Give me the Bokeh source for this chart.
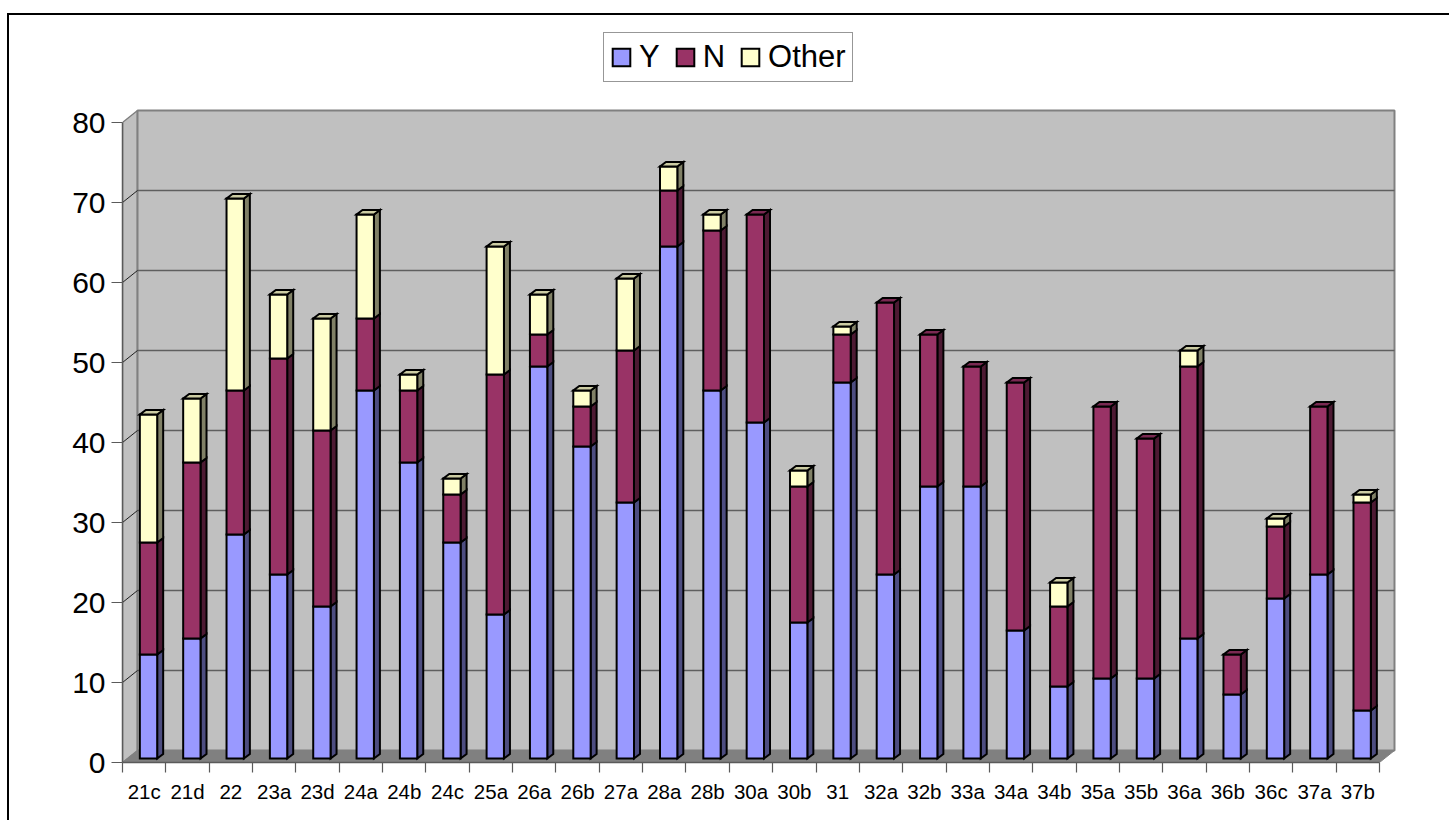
import numpy as np
from bokeh.plotting import figure
from bokeh.models import FixedTicker, Legend, LegendItem, Range1d
from bokeh.embed import file_html
from bokeh.resources import INLINE

categories = ["21c","21d","22","23a","23d","24a","24b","24c","25a","26a","26b","27a","28a","28b","30a",
              "30b","31","32a","32b","33a","34a","34b","35a","35b","36a","36b","36c","37a","37b"]
y_vals = [13,15,28,23,19,46,37,27,18,49,39,32,64,46,42,17,47,23,34,34,16,9,10,10,15,8,20,23,6]
n_vals = [14,22,18,27,22,9,9,6,30,4,5,19,7,20,26,17,6,34,19,15,31,10,34,30,34,5,9,21,26]
other_vals = [16,8,24,8,14,13,2,2,16,5,2,9,3,2,0,2,1,0,0,0,0,3,0,0,2,0,1,0,1]
y_ticks = [0,10,20,30,40,50,60,70,80]

FONT = "Liberation Sans"
n = len(categories)
PX_X = 1257 / n          # pixels per category
PX_Y = 8.0               # pixels per unit
WALL_DX = 15 / PX_X
WALL_DY = 12 / PX_Y
BAR_L, BAR_R = 0.40, 0.80
BAR_BASE = 0.5
BAR_DX = 6 / PX_X
BAR_DY = 4.5 / PX_Y

# The figure sits inside a CSS border that draws the chart-area frame
OX, OY = 9, 15
W, H = 1451 - OX, 822 - OY
BL, BB, BT = 122 - OX, 60, 20 - OY
BR = W - BL - 1278
frame_w = W - BL - BR
frame_h = H - BB - BT

p = figure(width=W, height=H, output_backend="svg", toolbar_location=None,
           x_range=Range1d(0, frame_w / PX_X), y_range=Range1d(0, frame_h / PX_Y),
           min_border_left=BL, min_border_right=BR, min_border_top=BT, min_border_bottom=BB,
           background_fill_color="white", border_fill_color="white", outline_line_color=None)
p.styles = {"margin-left": "7px", "margin-top": "13px",
            "border-left": "2px solid black", "border-top": "2px solid black"}
p.grid.visible = False

# walls and floor
WALL = "#C0C0C0"; EDGE = "#808080"
p.patch([0, WALL_DX, WALL_DX, 0], [0, WALL_DY, y_ticks[-1] + WALL_DY, y_ticks[-1]],
        fill_color=WALL, line_color=EDGE, line_width=1.5)
p.quad(left=[WALL_DX], right=[n + WALL_DX], bottom=[WALL_DY], top=[y_ticks[-1] + WALL_DY],
       fill_color=WALL, line_color=EDGE, line_width=2)
p.patch([0, n, n + WALL_DX, WALL_DX], [0, 0, WALL_DY, WALL_DY], fill_color=EDGE, line_color=EDGE, line_width=1)

# gridlines: back wall and side wall
grid = [t for t in y_ticks[1:-1]]
p.segment(x0=[WALL_DX] * len(grid), x1=[n + WALL_DX] * len(grid),
          y0=[t + WALL_DY for t in grid], y1=[t + WALL_DY for t in grid],
          line_color="#5F5F5F", line_width=1.5)
p.segment(x0=[0] * len(grid), x1=[WALL_DX] * len(grid),
          y0=grid, y1=[t + WALL_DY for t in grid], line_color="#202020", line_width=1)

# stacked 3D bars
series = [("Y", y_vals, "#9999FF", "#4D4D80", "#7A7ACC"),
          ("N", n_vals, "#993366", "#4D1A33", "#7A2952"),
          ("Other", other_vals, "#FFFFCC", "#808066", "#CCCCA3")]
x = np.arange(n, dtype=float)
base = np.zeros(n)
legend_items = []
LW = 2
for idx, (name, vals, face, side, top_col) in enumerate(series):
    vals = np.array(vals, dtype=float)
    m = vals > 0
    l, r = x[m] + BAR_L, x[m] + BAR_R
    b = base[m] + BAR_BASE
    t = b + vals[m]
    xs = [[ri, ri + BAR_DX, ri + BAR_DX, ri] for ri in r]
    ys = [[bi, bi + BAR_DY, ti + BAR_DY, ti] for bi, ti in zip(b, t)]
    p.patches(xs, ys, fill_color=side, line_color="black", line_width=LW, line_join="miter")
    q = p.quad(left=l, right=r, bottom=b, top=t, fill_color=face, line_color="black",
               line_width=LW, line_join="miter")
    legend_items.append(LegendItem(label=name, renderers=[q]))
    base = base + vals

# top caps, coloured by the uppermost non-empty segment
arr = [np.array(s[1], dtype=float) for s in series]
xs, ys, cols = [], [], []
for i in range(n):
    last = max(j for j in range(3) if arr[j][i] > 0)
    ti = base[i] + BAR_BASE
    li, ri = x[i] + BAR_L, x[i] + BAR_R
    xs.append([li, ri, ri + BAR_DX, li + BAR_DX])
    ys.append([ti, ti, ti + BAR_DY, ti + BAR_DY])
    cols.append(series[last][4])
p.patches(xs, ys, fill_color=cols, line_color="black", line_width=LW, line_join="miter")

# axes
AX = "#5A5A5A"
ya = p.yaxis[0]
ya.ticker = FixedTicker(ticks=y_ticks)
ya.bounds = (y_ticks[0], y_ticks[-1])
ya.axis_line_color = AX; ya.axis_line_width = 1.5
ya.major_tick_line_color = AX; ya.major_tick_line_width = 1.2
ya.major_tick_out = 11; ya.major_tick_in = 0
ya.minor_tick_line_color = None
ya.major_label_text_font = FONT
ya.major_label_text_font_size = "30px"
ya.major_label_text_color = "black"
ya.major_label_standoff = 6

xa = p.xaxis[0]
centers = [float(i) + 0.5 for i in range(n)]
xa.ticker = FixedTicker(ticks=centers, minor_ticks=[float(i) for i in range(n + 1)])
xa.major_label_overrides = {c: cat for c, cat in zip(centers, categories)}
xa.bounds = (0, n)
xa.axis_line_color = AX; xa.axis_line_width = 1.5
xa.major_tick_line_color = None
xa.major_tick_out = 0; xa.major_tick_in = 0
xa.minor_tick_line_color = AX; xa.minor_tick_line_width = 1.2
xa.minor_tick_out = 10; xa.minor_tick_in = 0
xa.major_label_text_font = FONT
xa.major_label_text_font_size = "20.5px"
xa.major_label_text_color = "black"
xa.major_label_standoff = 7

# legend
leg = Legend(items=legend_items, orientation="horizontal", location=(481, 680),
             glyph_width=22, glyph_height=22, label_standoff=7, spacing=14,
             padding=6, margin=0, label_text_font=FONT, label_text_font_size="31px",
             label_text_line_height=1.0,
             label_text_color="black", label_height=29,
             border_line_color="#303030", border_line_width=1.2,
             background_fill_color="white", background_fill_alpha=1)
p.add_layout(leg, "center")

open("out.html", "w").write(file_html(p, INLINE))
